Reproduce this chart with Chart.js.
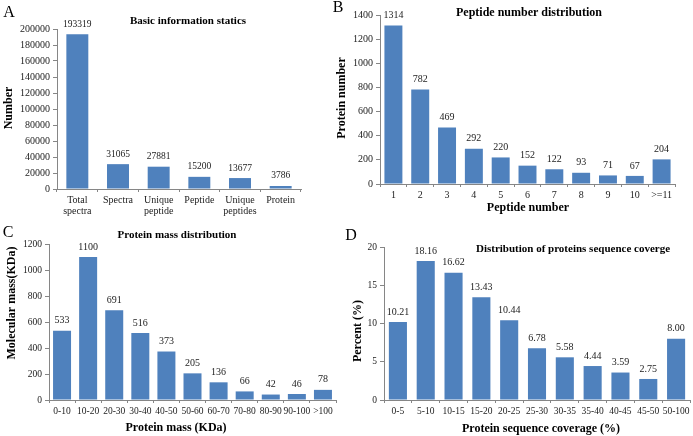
<!DOCTYPE html>
<html>
<head>
<meta charset="utf-8">
<script src="https://cdn.jsdelivr.net/npm/chart.js@4"></script>
<style>
  html, body { margin: 0; padding: 0; background: #fff; overflow: hidden; width: 693px; height: 436px; }
  canvas { position: absolute; left: 0; top: 0; }
</style>
</head>
<body>
<canvas id="chartA" width="720" height="460"></canvas>
<canvas id="chartB" width="720" height="460"></canvas>
<canvas id="chartC" width="720" height="460"></canvas>
<canvas id="chartD" width="720" height="460"></canvas>
<script>
// data
const basicLabels = [['Total', 'spectra'], 'Spectra', ['Unique', 'peptide'], 'Peptide', ['Unique', 'peptides'], 'Protein'];
const basicValues = [193319, 31065, 27881, 15200, 13677, 3786];

const peptideLabels = ['1', '2', '3', '4', '5', '6', '7', '8', '9', '10', '>=11'];
const peptideValues = [1314, 782, 469, 292, 220, 152, 122, 93, 71, 67, 204];

const massLabels = ['0-10', '10-20', '20-30', '30-40', '40-50', '50-60', '60-70', '70-80', '80-90', '90-100', '>100'];
const massValues = [533, 1100, 691, 516, 373, 205, 136, 66, 42, 46, 78];

const coverageLabels = ['0-5', '5-10', '10-15', '15-20', '20-25', '25-30', '30-35', '35-40', '40-45', '45-50', '50-100'];
const coverageValues = [10.21, 18.16, 16.62, 13.43, 10.44, 6.78, 5.58, 4.44, 3.59, 2.75, 8.00];

const SERIF = "'Liberation Serif', 'Times New Roman', serif";
const BAR = '#4F81BD';
const AXIS = '#868686';
const CW = 720, CH = 460, YW = 40, XH = 30;

// draws panel letter, title, axis titles and value labels
const textPlugin = {
    id: 'panelText',
    afterDraw(chart) {
        const t = chart.options.plugins.panelText;
        const ctx = chart.ctx;
        ctx.save();
        ctx.fillStyle = '#000';
        ctx.textAlign = 'center';
        ctx.textBaseline = 'middle';

        ctx.font = '16px ' + SERIF;
        ctx.fillText(t.letter[0], t.letter[1], t.letter[2]);

        ctx.font = 'bold ' + t.titleSize + 'px ' + SERIF;
        ctx.fillText(t.title[0], t.title[1], t.title[2]);

        ctx.font = 'bold 12px ' + SERIF;
        if (t.xTitle) ctx.fillText(t.xTitle[0], t.xTitle[1], t.xTitle[2]);
        ctx.save();
        ctx.translate(t.yTitle[1], t.yTitle[2]);
        ctx.rotate(-Math.PI / 2);
        ctx.fillText(t.yTitle[0], 0, 0);
        ctx.restore();

        ctx.font = t.valueSize + 'px ' + SERIF;
        ctx.fillStyle = '#222';
        const values = chart.data.datasets[0].data;
        chart.getDatasetMeta(0).data.forEach((bar, i) => {
            const v = t.decimals ? values[i].toFixed(t.decimals) : String(values[i]);
            ctx.fillText(v, bar.x, bar.y - 10);
        });
        ctx.restore();
    }
};

function makeChart(id, labels, values, area, yMax, yStep, catPct, fontSize, text) {
    new Chart(document.getElementById(id), {
        type: 'bar',
        data: {
            labels: labels,
            datasets: [{
                data: values,
                backgroundColor: BAR,
                borderWidth: 0,
                barPercentage: 1,
                categoryPercentage: catPct
            }]
        },
        options: {
            responsive: false,
            animation: false,
            layout: {
                padding: {
                    left: area.left - YW,
                    top: area.top,
                    right: CW - area.right,
                    bottom: CH - area.bottom - XH
                }
            },
            scales: {
                x: {
                    afterFit: s => { s.height = XH; },
                    grid: { display: true, drawOnChartArea: false, drawTicks: true, tickLength: 3, color: AXIS },
                    border: { display: true, color: AXIS },
                    ticks: {
                        autoSkip: false, maxRotation: 0, minRotation: 0, padding: 3,
                        color: '#222', font: { family: SERIF, size: fontSize, lineHeight: 1.1 }
                    }
                },
                y: {
                    min: 0, max: yMax,
                    afterFit: s => { s.width = YW; },
                    grid: { display: true, drawOnChartArea: false, drawTicks: true, tickLength: 4, color: AXIS },
                    border: { display: true, color: AXIS },
                    ticks: {
                        stepSize: yStep, padding: 3,
                        callback: v => String(v),
                        color: '#222', font: { family: SERIF, size: fontSize }
                    }
                }
            },
            plugins: {
                legend: { display: false },
                tooltip: { enabled: false },
                panelText: text
            }
        },
        plugins: [textPlugin]
    });
}

makeChart('chartA', basicLabels, basicValues,
    { left: 57, top: 29, right: 301, bottom: 189 }, 200000, 20000, 0.54, 10,
    {
        letter: ['A', 9, 13],
        title: ['Basic information statics', 188, 21], titleSize: 11,
        yTitle: ['Number', 9, 108],
        valueSize: 9.5
    });

makeChart('chartB', peptideLabels, peptideValues,
    { left: 380, top: 15, right: 675, bottom: 184 }, 1400, 200, 0.67, 10,
    {
        letter: ['B', 338, 8],
        title: ['Peptide number distribution', 529, 13], titleSize: 12,
        yTitle: ['Protein number', 342, 98],
        xTitle: ['Peptide number', 528, 208],
        valueSize: 10
    });

makeChart('chartC', massLabels, massValues,
    { left: 49, top: 244, right: 336, bottom: 400 }, 1200, 200, 0.69, 9.5,
    {
        letter: ['C', 8, 233],
        title: ['Protein mass distribution', 177, 235], titleSize: 11,
        yTitle: ['Molecular mass(KDa)', 12, 303],
        xTitle: ['Protein mass (KDa)', 176, 428],
        valueSize: 10
    });

makeChart('chartD', coverageLabels, coverageValues,
    { left: 384, top: 247, right: 690, bottom: 400 }, 20, 5, 0.65, 9.5,
    {
        letter: ['D', 351, 236],
        title: ['Distribution of proteins sequence coverge', 573, 249], titleSize: 11,
        yTitle: ['Percent (%)', 358, 331],
        xTitle: ['Protein sequence coverage (%)', 541, 429],
        valueSize: 10,
        decimals: 2
    });
</script>
</body>
</html>
